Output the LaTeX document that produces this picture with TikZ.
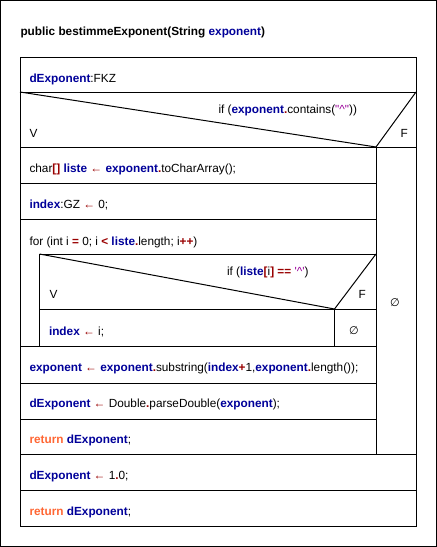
\documentclass[tikz,border=0pt]{standalone}
\usepackage{fontspec}
\setmainfont{Liberation Sans}[Ligatures=TeXOff]
\newfontfamily\symfont{DejaVu Sans}
\usepackage{xcolor}
\usepackage{tikz}
\definecolor{varColor}{RGB}{0, 0, 153}
\definecolor{opColor}{RGB}{153, 0, 0}
\definecolor{retColor}{RGB}{255, 102, 51}
\definecolor{strColor}{RGB}{153, 0, 153}
\newcommand{\varb}[1]{\textbf{\textcolor{varColor}{#1}}}
\newcommand{\opr}[1]{\textbf{\textcolor{opColor}{#1}}}
\newcommand{\retkw}{\textbf{\textcolor{retColor}{return}}}
\newcommand{\strl}[1]{\textcolor{strColor}{#1}}
\newcommand{\lassign}{\opr{←}}

\begin{document}
\begin{tikzpicture}[x=1pt, y=-1pt, line width=1pt,
    code/.style={anchor=base west, inner sep=0pt, font=\fontsize{11.8}{13}\selectfont},
    empty/.style={inner sep=0pt, font=\symfont\fontsize{11}{13}\selectfont}]

    \useasboundingbox (0,0) rectangle (437,547);
    \draw (0.5,0.5) rectangle (436.5,546.5);

    \node (title) [code] at (20,35) {\textbf{public bestimmeExponent(String \textcolor{varColor}{exponent})}};

    % outer frame of the structogram
    \draw (20,57) rectangle (416,526);
    \node (decl) [code] at (29,82) {\varb{dExponent}:FKZ};
    \draw (20,92) -- (416,92);

    % if (exponent.contains("^"))
    \draw (20,92) -- (376,147) -- (416,92);
    \node (cond) [code] at (218,113) {if (\varb{exponent}\opr{.}contains(\strl{"\textasciicircum"}))};
    \node (yes) [code] at (29,137) {V};
    \node (no) [code] at (400,137) {F};
    \draw (20,147) -- (416,147);
    \draw (376,147) -- (376,454);
    \node (noop) [empty] at (395,303) {∅};

    \node (arr) [code] at (29,172.5) {char\opr{[]} \varb{liste} \lassign{} \varb{exponent}\opr{.}toCharArray();};
    \draw (20,183) -- (376,183);
    \node (idx) [code] at (29,208) {\varb{index}:GZ \lassign{} 0;};
    \draw (20,219) -- (376,219);

    % for loop
    \node (loop) [code] at (29,245) {for (int i \opr{=} 0; i \opr{<} \varb{liste}\opr{.}length; i\opr{++})};
    \draw (39.5,346) -- (39.5,254) -- (376,254);
    \draw (39.5,254) -- (334.5,309) -- (376,254);
    \node (cond2) [code] at (226.5,275.5) {if (\varb{liste}\opr{[}i\opr{]} \opr{==} \strl{'\textasciicircum'})};
    \node (yes2) [code] at (49,298.5) {V};
    \node (no2) [code] at (358,298.5) {F};
    \draw (39.5,309) -- (376,309);
    \draw (334.5,309) -- (334.5,346);
    \node (setidx) [code] at (48.5,335) {\varb{index} \lassign{} i;};
    \node (noop2) [empty] at (354,330.5) {∅};
    \draw (20,346) -- (376,346);

    \node (sub) [code] at (29,371.5) {\varb{exponent} \lassign{} \varb{exponent}\opr{.}substring(\varb{index}\opr{+}1,\varb{exponent}\opr{.}length());};
    \draw (20,383) -- (376,383);
    \node (parse) [code] at (29,407.5) {\varb{dExponent} \lassign{} Double\opr{.}parseDouble(\varb{exponent});};
    \draw (20,419) -- (376,419);
    \node (ret1) [code] at (29,443) {\retkw{} \varb{dExponent};};
    \draw (20,454) -- (416,454);

    \node (dflt) [code] at (29,479) {\varb{dExponent} \lassign{} 1\opr{.}0;};
    \draw (20,490) -- (416,490);
    \node (ret2) [code] at (29,515.5) {\retkw{} \varb{dExponent};};

\end{tikzpicture}
\end{document}
